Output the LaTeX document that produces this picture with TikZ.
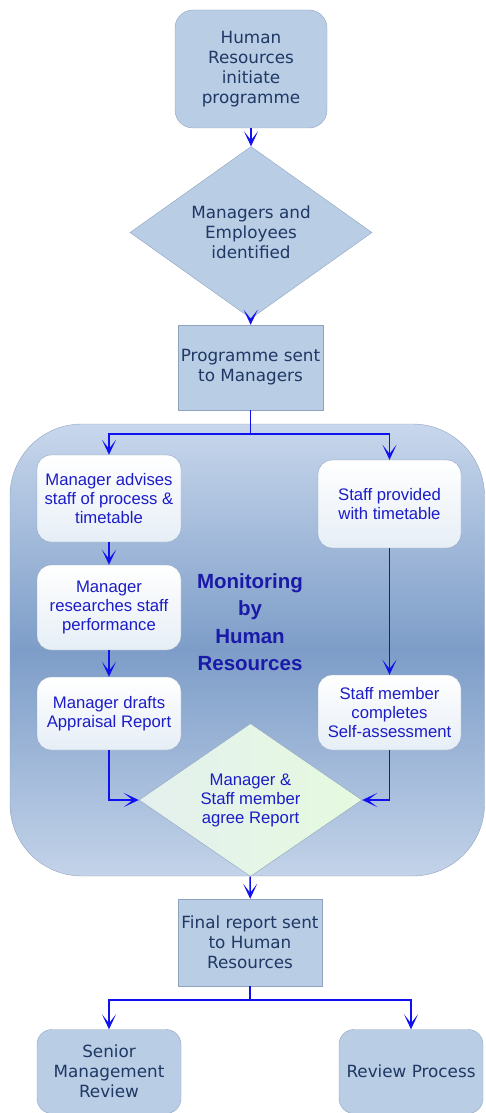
\documentclass[tikz,border=0pt]{standalone}
\usepackage{fontspec}
\setmainfont{DejaVu Sans}
\newfontfamily\arialfont{Liberation Sans}
\usepackage{tikz}
\usetikzlibrary{arrows.meta,shapes.geometric}
\definecolor{navy}{HTML}{1F3864}
\definecolor{boxfill}{HTML}{B9CDE5}
\definecolor{boxline}{HTML}{8FA3BF}
\definecolor{flow}{HTML}{1010F0}
\definecolor{steptext}{HTML}{1C1CC8}
\definecolor{monitor}{HTML}{1A1AA8}
\definecolor{regtop}{HTML}{C8D7EC}
\definecolor{regmid}{HTML}{7D9DC8}
\definecolor{regbot}{HTML}{C3D3E9}
\definecolor{paleblue}{HTML}{E6EEF6}
\definecolor{greenl}{HTML}{E4F0EE}
\definecolor{greenr}{HTML}{E5FADF}
\tikzset{
  hrbox/.style={draw=boxline, fill=boxfill, text=navy, align=center, inner sep=1pt,
    font=\fontsize{16.8}{19.8}\selectfont},
  hrround/.style={hrbox, rounded corners=18pt},
  hrdiam/.style={hrbox, diamond, inner sep=0pt},
  task/.style={draw=boxline, top color=white, bottom color=paleblue, text=steptext,
    rounded corners=14pt, align=center, minimum width=144pt, inner sep=1pt,
    font=\arialfont\fontsize{16.7}{19}\selectfont},
  conn/.style={draw=flow, line width=1.5pt, -{Stealth[length=15pt,width=14pt,inset=9pt]}},
  link/.style={draw=flow, line width=1.5pt},
  region/.style={draw=boxline, top color=regtop, bottom color=regbot, middle color=regmid,
    rounded corners=72pt},
}

\begin{document}
\begin{tikzpicture}[x=1pt,y=1pt]
  \useasboundingbox (0,0) rectangle (485,-1113);
  % monitoring area
  \path[region] (10,-424) rectangle (484.5,-876);
  \node[text=monitor, align=center, font=\arialfont\bfseries\fontsize{20.5}{27.5}\selectfont]
    (mon) at (250,-622) {Monitoring\\by\\Human\\Resources};

  \node[hrround, minimum width=152pt, minimum height=118pt] (hr) at (251,-69)
    {Human\\Resources\\initiate\\programme};
  \node[hrdiam, minimum width=242pt, minimum height=151pt] (ident) at (251,-232.5)
    {Managers and\\Employees\\identified};
  \node[hrbox, minimum width=145pt, minimum height=85pt] (sent) at (250.5,-367.5)
    {Programme sent\\to Managers};

  \node[task, minimum height=87pt] (adv) at (109,-498.5) {Manager advises\\staff of process \&\\timetable};
  \node[task, minimum height=85pt] (res) at (109,-607.5) {Manager\\researches staff\\performance};
  \node[task, minimum height=73pt] (draft) at (109,-713.5) {Manager drafts\\Appraisal Report};
  \node[task, minimum height=88pt, minimum width=143pt] (prov) at (389.5,-504) {Staff provided\\with timetable};
  \node[task, minimum height=75pt, minimum width=143pt] (self) at (389.5,-712.5) {Staff member\\completes\\Self-assessment};
  \node[diamond, draw=boxline, left color=greenl, right color=greenr, text=steptext, align=center,
    inner sep=0pt, minimum width=223pt, minimum height=136pt,
    font=\arialfont\fontsize{16.7}{19}\selectfont] (agree) at (250.5,-800) {Manager \&\\Staff member\\agree Report};

  \node[hrbox, minimum width=144pt, minimum height=87pt] (final) at (250,-942.5)
    {Final report sent\\to Human\\Resources};
  \node[hrround, rounded corners=15pt, minimum width=144pt, minimum height=84pt] (senior) at (109,-1071.5)
    {Senior\\Management\\Review};
  \node[hrround, rounded corners=15pt, minimum width=144pt, minimum height=84pt] (review) at (411,-1071.5)
    {Review Process};

  \coordinate (fork1) at (250.5,-434);
  \coordinate (fork2) at (250,-1000);

  \draw[conn] (hr) -- (ident);
  \draw[conn] (ident) -- (sent);
  \draw[link] (sent) -- (fork1);
  \draw[conn] (fork1) -| (adv);
  \draw[conn] (fork1) -| (prov);
  \draw[conn] (adv) -- (res);
  \draw[conn] (res) -- (draft);
  \draw[conn] (prov) -- (self);
  \draw[conn] (draft) |- (agree);
  \draw[conn] (self) |- (agree);
  \draw[conn] (agree) -- (final);
  \draw[link] (final) -- (fork2);
  \draw[conn] (fork2) -| (senior);
  \draw[conn] (fork2) -| (review);
\end{tikzpicture}
\end{document}
